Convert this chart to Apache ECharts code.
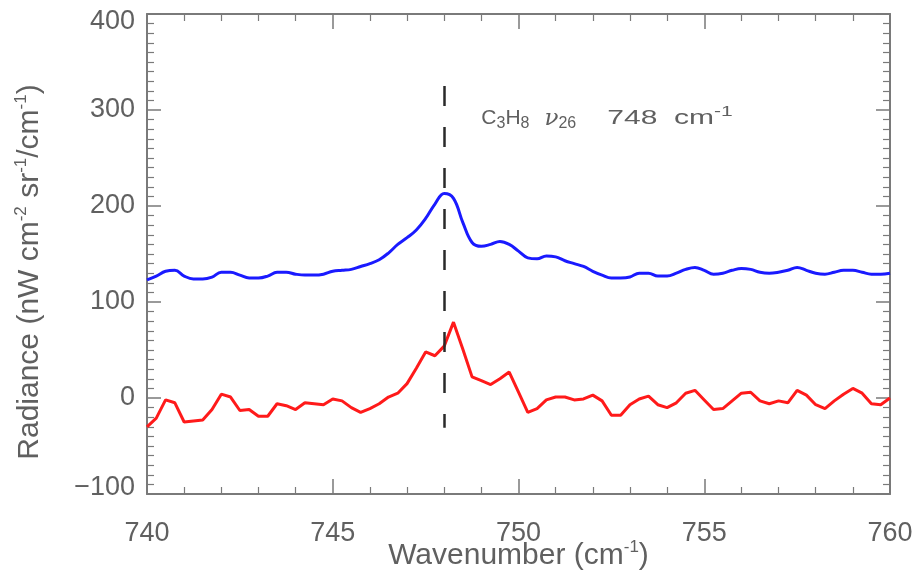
<!DOCTYPE html>
<html>
<head>
<meta charset="utf-8">
<script src="https://cdn.jsdelivr.net/npm/echarts@6/dist/echarts.min.js"></script>
<style>
  html, body { margin: 0; padding: 0; background: #fff; }
  #chart { width: 916px; height: 576px; }
</style>
</head>
<body>
<div id="chart"></div>
<script>
// Spectral sampling: 740–760 cm^-1 every 0.25 cm^-1
const WN_START = 740;
const WN_STEP = 0.25;

// Smoothed (model / fitted) radiance, nW cm^-2 sr^-1/cm^-1
const radianceSmooth = [
  123, 127, 132, 133, 127, 124, 124, 126, 131, 131,
  128, 125, 125, 127, 131, 131, 129, 128, 128, 129,
  132, 133, 134, 137, 140, 144, 151, 160, 167, 175,
  187, 202, 213, 208, 183, 162, 158, 160, 163, 160,
  153, 146, 145, 148, 147, 143, 140, 137, 132, 128,
  125, 125, 126, 130, 130, 127, 127, 130, 134, 136,
  133, 129, 130, 133, 135, 134, 131, 130, 131, 133,
  136, 133, 130, 129, 131, 133, 133, 131, 129, 129,
  130
];

// Residual radiance spectrum
const radianceResidual = [
  -30, -21, -2, -5, -25, -24, -23, -12, 4, 1,
  -13, -12, -19, -19, -6, -8, -12, -5, -6, -7,
  -1, -3, -10, -15, -11, -6, 1, 5, 15, 31,
  48, 44, 54, 79, 51, 22, 18, 14, 20, 27,
  6, -15, -11, -2, 1, 1, -2, -1, 3, -3,
  -18, -18, -7, -1, 2, -7, -10, -5, 5, 8,
  -2, -12, -11, -3, 5, 6, -3, -6, -3, -5,
  8, 3, -7, -11, -3, 4, 10, 5, -6, -7,
  0
];

// Axis ranges and tick spacing
const xRange = [740, 760];
const xInterval = 5;
const yRange = [-100, 400];
const yInterval = 100;

// C3H8 nu26 band marker
const bandCenter = 748;
const bandMarkerSpan = [325, -31];
const bandLabelAt = [749.0, 291];

const wavenumbers = radianceSmooth.map((_, i) => WN_START + i * WN_STEP);
const toPairs = (vals) => vals.map((v, i) => [wavenumbers[i], v]);

const FONT = '"Liberation Sans", Arial, sans-serif';
const TXT = '#606060';
const FRAME = '#7a7a7a';

const supStyle = { fontSize: 17, fontFamily: FONT, color: TXT, verticalAlign: 'top', lineHeight: 16 };
const mainStyle = { fontSize: 30, fontFamily: FONT, color: TXT, lineHeight: 34 };
const tickFont = { fontSize: 27, fontFamily: FONT, color: TXT };

const chart = echarts.init(document.getElementById('chart'), null, { renderer: 'canvas' });

const baseX = {
  type: 'value', min: xRange[0], max: xRange[1], interval: xInterval,
  axisLine: { show: true, onZero: false, lineStyle: { color: FRAME, width: 2 } },
  axisTick: { show: true, inside: true, length: 15, lineStyle: { color: FRAME, width: 1.5 } },
  minorTick: { show: true, splitNumber: 5, length: 7, lineStyle: { color: FRAME, width: 1.2 } },
  splitLine: { show: false },
  minorSplitLine: { show: false }
};
const baseY = {
  type: 'value', min: yRange[0], max: yRange[1], interval: yInterval,
  axisLine: { show: true, onZero: false, lineStyle: { color: FRAME, width: 2 } },
  axisTick: { show: true, inside: true, length: 14, lineStyle: { color: FRAME, width: 1.5 } },
  minorTick: { show: true, splitNumber: 10, length: 7, lineStyle: { color: FRAME, width: 1.2 } },
  splitLine: { show: false },
  minorSplitLine: { show: false }
};

// End labels of the radiance axis sit just inside the frame
const yLabel = (v) => {
  const s = v < 0 ? '\u2212' + Math.abs(v) : String(v);
  if (v === yRange[1]) return '{hi|' + s + '}';
  if (v === yRange[0]) return '{lo|' + s + '}';
  return '{n|' + s + '}';
};

chart.setOption({
  animation: false,
  backgroundColor: '#ffffff',
  grid: { left: 147, right: 26, top: 14, bottom: 82, containLabel: false, outerBoundsMode: 'none' },
  xAxis: [
    Object.assign({}, baseX, {
      position: 'bottom',
      axisLabel: Object.assign({ show: true, margin: 26 }, tickFont),
      name: '{m|Wavenumber (cm}{sup|-1}{m|)}',
      nameLocation: 'middle',
      nameGap: 45,
      nameMoveOverlap: false,
      nameTextStyle: { rich: { m: mainStyle, sup: supStyle } }
    }),
    Object.assign({}, baseX, { position: 'top', axisLabel: { show: false } })
  ],
  yAxis: [
    Object.assign({}, baseY, {
      position: 'left',
      axisLabel: Object.assign({
        show: true, margin: 12, formatter: yLabel,
        rich: {
          n: Object.assign({}, tickFont),
          hi: Object.assign({ padding: [16, 0, 0, 0] }, tickFont),
          lo: Object.assign({ padding: [0, 0, 12, 0] }, tickFont)
        }
      }, tickFont),
      name: '{m|Radiance (nW cm}{sup|-2}{m| sr}{sup|-1}{m|/cm}{sup|-1}{m|)}',
      nameLocation: 'middle',
      nameGap: 100,
      nameRotate: 90,
      nameMoveOverlap: false,
      nameTextStyle: { padding: [0, 36, 0, 0], rich: { m: mainStyle, sup: supStyle } }
    }),
    Object.assign({}, baseY, { position: 'right', axisLabel: { show: false } })
  ],
  series: [
    {
      name: 'Smoothed',
      type: 'line',
      data: toPairs(radianceSmooth),
      smooth: 0.4,
      showSymbol: false,
      lineStyle: { color: '#1a1aff', width: 3 },
      z: 3
    },
    {
      name: 'Residual',
      type: 'line',
      data: toPairs(radianceResidual),
      showSymbol: false,
      lineStyle: { color: '#ff1a1a', width: 3 },
      z: 3,
      markLine: {
        silent: true,
        symbol: ['none', 'none'],
        label: { show: false },
        lineStyle: { color: '#2a2a2a', width: 2.5, type: [20, 21] },
        data: [[
          { coord: [bandCenter, bandMarkerSpan[0]] },
          { coord: [bandCenter, bandMarkerSpan[1]] }
        ]]
      }
    }
  ]
});

// Band annotation: C3H8 nu26 748 cm^-1
const anchor = chart.convertToPixel({ xAxisIndex: 0, yAxisIndex: 0 }, bandLabelAt);
const annMain = { fontSize: 21, fontFamily: FONT, fill: TXT, lineHeight: 26 };
const annGap = { fontSize: 21, fontFamily: FONT, fill: TXT, lineHeight: 26, width: 15 };
const annSub = { fontSize: 16, fontFamily: FONT, fill: TXT, verticalAlign: 'bottom', lineHeight: 16 };
const annNu = { fontSize: 23, fontFamily: '"DejaVu Serif", serif', fontStyle: 'italic', fill: TXT, lineHeight: 26 };
const annNum = { fontSize: 20, fontFamily: FONT, fill: TXT, lineHeight: 26 };
const annSup = { fontSize: 14, fontFamily: FONT, fill: TXT, verticalAlign: 'top', lineHeight: 14 };

chart.setOption({
  graphic: [
    {
      type: 'text',
      x: anchor[0], y: anchor[1],
      silent: true,
      style: {
        text: '{m|C}{s|3}{m|H}{s|8}{g| }{nu|\u03bd}{s|26}',
        verticalAlign: 'middle', align: 'left',
        rich: { m: annMain, g: annGap, s: annSub, nu: annNu }
      }
    },
    {
      type: 'text',
      x: anchor[0] + 126, y: anchor[1],
      scaleX: 1.5,
      silent: true,
      style: {
        text: '{m|748  cm}{p|-1}',
        verticalAlign: 'middle', align: 'left',
        rich: { m: annNum, p: annSup }
      }
    }
  ]
});
</script>
</body>
</html>
